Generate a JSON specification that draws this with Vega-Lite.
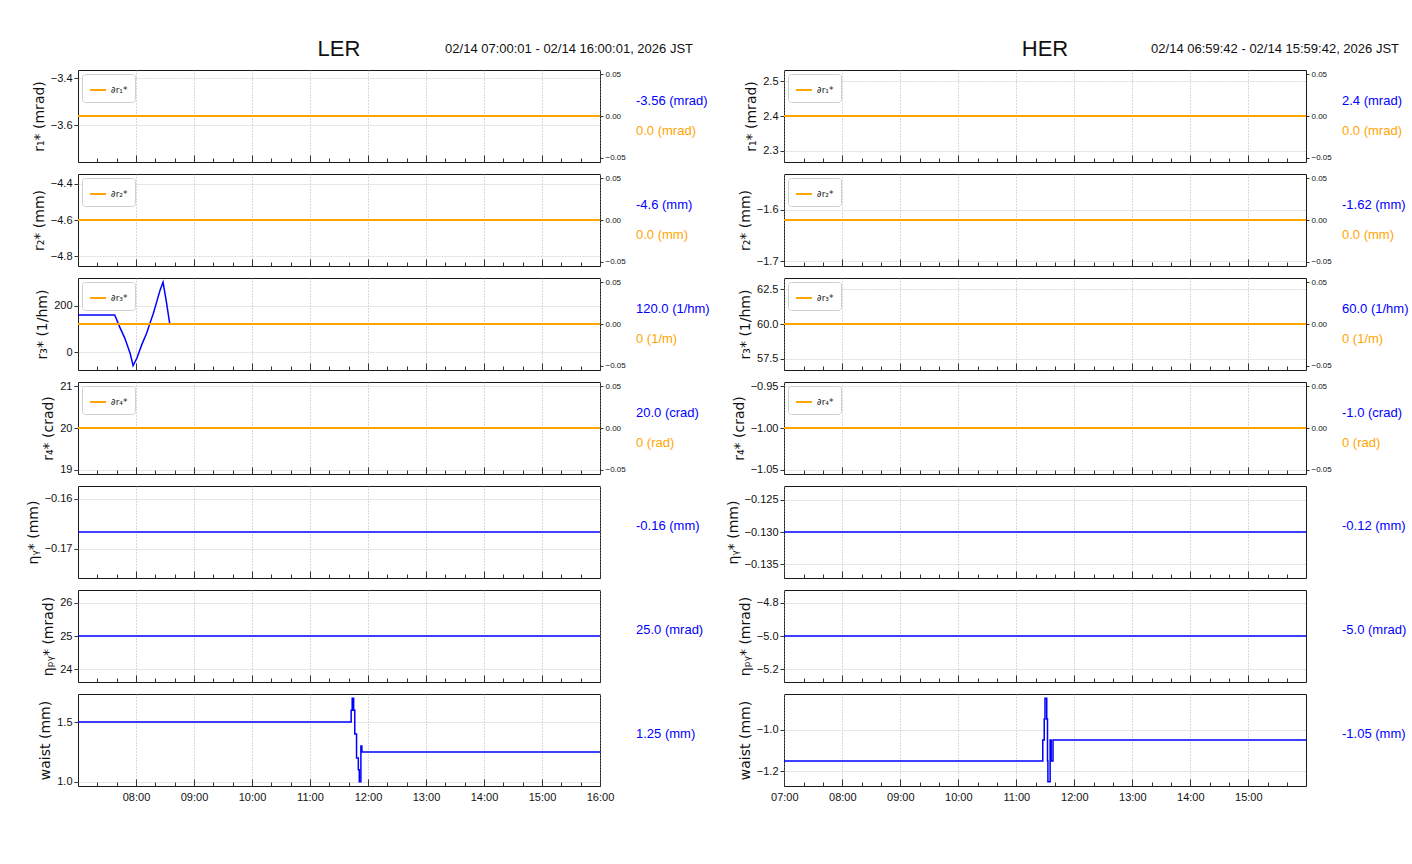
{
"$schema": "https://vega.github.io/schema/vega-lite/v6.json",
"padding": {"left": 25, "top": 37, "right": 0, "bottom": 0},
"config": {
  "font": "Liberation Sans",
  "view": {"stroke": "#1a1a1a", "strokeWidth": 1},
  "axis": {"domain": false, "labelFont": "Liberation Sans", "labelFontSize": 11, "labelColor": "#111", "tickColor": "#333", "titleFont": "DejaVu Sans", "titleFontSize": 14, "titleFontWeight": "normal", "titleColor": "#111"},
  "axisX": {"gridColor": "#a0a0a0", "gridDash": [1, 2], "gridWidth": 0.8, "labelFlush": false},
  "axisY": {"grid": true, "gridColor": "#d0d0d0", "gridDash": [2, 1], "gridWidth": 0.8, "tickSize": 4, "labelPadding": 2, "titlePadding": 4},
  "legend": {"orient": "top-left", "offset": 4, "fillColor": "white", "strokeColor": "#d0d0d0", "cornerRadius": 3, "padding": 7, "symbolType": "stroke", "symbolStrokeWidth": 2, "symbolSize": 256, "labelFont": "DejaVu Sans", "labelFontSize": 9, "labelColor": "#222", "labelOffset": 4}
},
"datasets": {
  "oL": [{"t": "2026-02-14T07:00:01Z", "v": 0}, {"t": "2026-02-14T16:00:01Z", "v": 0}],
  "oH": [{"t": "2026-02-14T06:59:42Z", "v": 0}, {"t": "2026-02-14T15:59:42Z", "v": 0}],
  "ler_r3": [{"t":"2026-02-14T07:00:01Z","v":160},{"t":"2026-02-14T07:38:00Z","v":160},{"t":"2026-02-14T07:43:00Z","v":110},{"t":"2026-02-14T07:48:30Z","v":60},{"t":"2026-02-14T07:54:00Z","v":-5},{"t":"2026-02-14T07:57:00Z","v":-57},{"t":"2026-02-14T08:01:00Z","v":-24},{"t":"2026-02-14T08:06:00Z","v":33},{"t":"2026-02-14T08:11:00Z","v":82},{"t":"2026-02-14T08:14:30Z","v":125},{"t":"2026-02-14T08:18:00Z","v":167},{"t":"2026-02-14T08:21:30Z","v":217},{"t":"2026-02-14T08:25:00Z","v":267},{"t":"2026-02-14T08:28:00Z","v":300},{"t":"2026-02-14T08:31:30Z","v":215},{"t":"2026-02-14T08:35:00Z","v":120},{"t":"2026-02-14T16:00:01Z","v":120}],
  "ler_waist": [{"t":"2026-02-14T07:00:01Z","v":1.5},{"t":"2026-02-14T11:42:36Z","v":1.6},{"t":"2026-02-14T11:43:40Z","v":1.7},{"t":"2026-02-14T11:45:10Z","v":1.6},{"t":"2026-02-14T11:46:20Z","v":1.4},{"t":"2026-02-14T11:48:10Z","v":1.2},{"t":"2026-02-14T11:50:00Z","v":1.1},{"t":"2026-02-14T11:51:00Z","v":1.0},{"t":"2026-02-14T11:52:40Z","v":1.3},{"t":"2026-02-14T11:53:40Z","v":1.25},{"t":"2026-02-14T16:00:01Z","v":1.25}],
  "her_waist": [{"t":"2026-02-14T06:59:42Z","v":-1.15},{"t":"2026-02-14T11:27:24Z","v":-1.05},{"t":"2026-02-14T11:28:54Z","v":-0.95},{"t":"2026-02-14T11:29:42Z","v":-0.85},{"t":"2026-02-14T11:31:30Z","v":-0.95},{"t":"2026-02-14T11:32:18Z","v":-1.15},{"t":"2026-02-14T11:32:42Z","v":-1.25},{"t":"2026-02-14T11:35:00Z","v":-1.05},{"t":"2026-02-14T11:36:06Z","v":-1.15},{"t":"2026-02-14T11:38:00Z","v":-1.05},{"t":"2026-02-14T15:59:42Z","v":-1.05}]
},
"columns": 4,
"spacing": {"row": 12, "column": 36},
"bounds": "flush",
"align": "each",
"resolve": {"scale": {"color": "independent"}, "legend": {"color": "independent"}},
"concat": [
  {"width": 522, "height": 19, "view": {"stroke": null}, "data": {"values": [{"label": "LER"}]}, "mark": {"type": "text", "align": "center", "baseline": "middle", "font": "Liberation Sans", "fontSize": 22, "color": "#111"}, "encoding": {"text": {"field": "label"}}},
  {"width": 57, "height": 19, "view": {"stroke": null}, "data": {"values": [{"label": "02/14 07:00:01 - 02/14 16:00:01, 2026 JST"}]}, "mark": {"type": "text", "align": "right", "baseline": "middle", "font": "Liberation Sans", "fontSize": 13, "color": "#111"}, "encoding": {"x": {"datum": 1, "type": "quantitative", "scale": {"domain": [0, 1]}, "axis": null}, "text": {"field": "label"}}},
  {"width": 522, "height": 19, "view": {"stroke": null}, "data": {"values": [{"label": "HER"}]}, "mark": {"type": "text", "align": "center", "baseline": "middle", "font": "Liberation Sans", "fontSize": 22, "color": "#111"}, "encoding": {"text": {"field": "label"}}},
  {"width": 57, "height": 19, "view": {"stroke": null}, "data": {"values": [{"label": "02/14 06:59:42 - 02/14 15:59:42, 2026 JST"}]}, "mark": {"type": "text", "align": "right", "baseline": "middle", "font": "Liberation Sans", "fontSize": 13, "color": "#111"}, "encoding": {"x": {"datum": 1, "type": "quantitative", "scale": {"domain": [0, 1]}, "axis": null}, "text": {"field": "label"}}},

  {"width": 522, "height": 92, "layer": [
    {"data": {"values": [{"t": "2026-02-14T07:00:01Z", "v": -3.56}, {"t": "2026-02-14T16:00:01Z", "v": -3.56}]}, "mark": {"type": "line", "color": "#0000ff", "strokeWidth": 1.5},
     "encoding": {"x": {"field": "t", "type": "temporal", "scale": {"type": "utc", "domain": [1771052401000, 1771084801000]}, "axis": {"orient": "bottom", "title": null, "values": [1771056000000,1771059600000,1771063200000,1771066800000,1771070400000,1771074000000,1771077600000,1771081200000,1771084800000], "offset": -7, "tickSize": 7, "grid": true, "labels": false}},
                  "y": {"field": "v", "type": "quantitative", "scale": {"domain": [-3.7558, -3.3642], "zero": false, "nice": false}, "axis": {"title": "r₁* (mrad)", "values": [-3.6, -3.4], "format": ".1f"}}}},
    {"data": {"name": "oL"}, "mark": {"type": "line", "strokeWidth": 2},
     "encoding": {"x": {"field": "t", "type": "temporal", "scale": {"type": "utc", "domain": [1771052401000, 1771084801000]}, "axis": null},
                  "y": {"field": "v", "type": "quantitative", "scale": {"domain": [-0.055, 0.055], "zero": false, "nice": false}, "axis": {"orient": "right", "title": null, "values": [-0.05, 0, 0.05], "format": ".2f", "grid": false, "tickSize": 3, "labelFontSize": 8, "labelPadding": 2}},
                  "color": {"datum": "∂r₁*", "type": "nominal", "scale": {"range": ["#ffa500"]}, "legend": {"title": null}}}},
    {"data": {"name": "oL"}, "mark": {"type": "rule", "opacity": 0},
     "encoding": {"x": {"field": "t", "type": "temporal", "scale": {"type": "utc", "domain": [1771052401000, 1771084801000]}, "axis": {"orient": "bottom", "title": null, "values": [1771053600000,1771054800000,1771057200000,1771058400000,1771060800000,1771062000000,1771064400000,1771065600000,1771068000000,1771069200000,1771071600000,1771072800000,1771075200000,1771076400000,1771078800000,1771080000000,1771082400000,1771083600000], "offset": -4, "tickSize": 4, "grid": false, "labels": false}}}}
  ], "resolve": {"scale": {"y": "independent"}, "axis": {"x": "independent"}}},
  {"width": 112, "height": 92, "view": {"stroke": null}, "data": {"values": [{"label": "-3.56 (mrad)", "kind": "value"}, {"label": "0.0 (mrad)", "kind": "delta"}]}, "mark": {"type": "text", "align": "left", "baseline": "middle", "font": "Liberation Sans", "fontSize": 13},
   "encoding": {"x": {"datum": 0, "type": "quantitative", "scale": {"domain": [0, 1]}, "axis": null}, "y": {"field": "kind", "type": "nominal", "scale": {"type": "point", "domain": ["value", "delta"], "padding": 1.143, "align": 0.5}, "axis": null}, "text": {"field": "label"}, "color": {"field": "kind", "type": "nominal", "scale": {"domain": ["value", "delta"], "range": ["#0000ff", "#ffa500"]}, "legend": null}}},
  {"width": 522, "height": 92, "layer": [
    {"data": {"values": [{"t": "2026-02-14T06:59:42Z", "v": 2.4}, {"t": "2026-02-14T15:59:42Z", "v": 2.4}]}, "mark": {"type": "line", "color": "#0000ff", "strokeWidth": 1.5},
     "encoding": {"x": {"field": "t", "type": "temporal", "scale": {"type": "utc", "domain": [1771052382000, 1771084782000]}, "axis": {"orient": "bottom", "title": null, "values": [1771052400000,1771056000000,1771059600000,1771063200000,1771066800000,1771070400000,1771074000000,1771077600000,1771081200000], "offset": -7, "tickSize": 7, "grid": true, "labels": false}},
                  "y": {"field": "v", "type": "quantitative", "scale": {"domain": [2.268, 2.532], "zero": false, "nice": false}, "axis": {"title": "r₁* (mrad)", "values": [2.3, 2.4, 2.5], "format": ".1f"}}}},
    {"data": {"name": "oH"}, "mark": {"type": "line", "strokeWidth": 2},
     "encoding": {"x": {"field": "t", "type": "temporal", "scale": {"type": "utc", "domain": [1771052382000, 1771084782000]}, "axis": null},
                  "y": {"field": "v", "type": "quantitative", "scale": {"domain": [-0.055, 0.055], "zero": false, "nice": false}, "axis": {"orient": "right", "title": null, "values": [-0.05, 0, 0.05], "format": ".2f", "grid": false, "tickSize": 3, "labelFontSize": 8, "labelPadding": 2}},
                  "color": {"datum": "∂r₁*", "type": "nominal", "scale": {"range": ["#ffa500"]}, "legend": {"title": null}}}},
    {"data": {"name": "oH"}, "mark": {"type": "rule", "opacity": 0},
     "encoding": {"x": {"field": "t", "type": "temporal", "scale": {"type": "utc", "domain": [1771052382000, 1771084782000]}, "axis": {"orient": "bottom", "title": null, "values": [1771053600000,1771054800000,1771057200000,1771058400000,1771060800000,1771062000000,1771064400000,1771065600000,1771068000000,1771069200000,1771071600000,1771072800000,1771075200000,1771076400000,1771078800000,1771080000000,1771082400000,1771083600000], "offset": -4, "tickSize": 4, "grid": false, "labels": false}}}}
  ], "resolve": {"scale": {"y": "independent"}, "axis": {"x": "independent"}}},
  {"width": 60, "height": 92, "view": {"stroke": null}, "data": {"values": [{"label": "2.4 (mrad)", "kind": "value"}, {"label": "0.0 (mrad)", "kind": "delta"}]}, "mark": {"type": "text", "align": "left", "baseline": "middle", "font": "Liberation Sans", "fontSize": 13},
   "encoding": {"x": {"datum": 0, "type": "quantitative", "scale": {"domain": [0, 1]}, "axis": null}, "y": {"field": "kind", "type": "nominal", "scale": {"type": "point", "domain": ["value", "delta"], "padding": 1.143, "align": 0.5}, "axis": null}, "text": {"field": "label"}, "color": {"field": "kind", "type": "nominal", "scale": {"domain": ["value", "delta"], "range": ["#0000ff", "#ffa500"]}, "legend": null}}},

  {"width": 522, "height": 92, "layer": [
    {"data": {"values": [{"t": "2026-02-14T07:00:01Z", "v": -4.6}, {"t": "2026-02-14T16:00:01Z", "v": -4.6}]}, "mark": {"type": "line", "color": "#0000ff", "strokeWidth": 1.5},
     "encoding": {"x": {"field": "t", "type": "temporal", "scale": {"type": "utc", "domain": [1771052401000, 1771084801000]}, "axis": {"orient": "bottom", "title": null, "values": [1771056000000,1771059600000,1771063200000,1771066800000,1771070400000,1771074000000,1771077600000,1771081200000,1771084800000], "offset": -7, "tickSize": 7, "grid": true, "labels": false}},
                  "y": {"field": "v", "type": "quantitative", "scale": {"domain": [-4.853, -4.347], "zero": false, "nice": false}, "axis": {"title": "r₂* (mm)", "values": [-4.8, -4.6, -4.4], "format": ".1f"}}}},
    {"data": {"name": "oL"}, "mark": {"type": "line", "strokeWidth": 2},
     "encoding": {"x": {"field": "t", "type": "temporal", "scale": {"type": "utc", "domain": [1771052401000, 1771084801000]}, "axis": null},
                  "y": {"field": "v", "type": "quantitative", "scale": {"domain": [-0.055, 0.055], "zero": false, "nice": false}, "axis": {"orient": "right", "title": null, "values": [-0.05, 0, 0.05], "format": ".2f", "grid": false, "tickSize": 3, "labelFontSize": 8, "labelPadding": 2}},
                  "color": {"datum": "∂r₂*", "type": "nominal", "scale": {"range": ["#ffa500"]}, "legend": {"title": null}}}},
    {"data": {"name": "oL"}, "mark": {"type": "rule", "opacity": 0},
     "encoding": {"x": {"field": "t", "type": "temporal", "scale": {"type": "utc", "domain": [1771052401000, 1771084801000]}, "axis": {"orient": "bottom", "title": null, "values": [1771053600000,1771054800000,1771057200000,1771058400000,1771060800000,1771062000000,1771064400000,1771065600000,1771068000000,1771069200000,1771071600000,1771072800000,1771075200000,1771076400000,1771078800000,1771080000000,1771082400000,1771083600000], "offset": -4, "tickSize": 4, "grid": false, "labels": false}}}}
  ], "resolve": {"scale": {"y": "independent"}, "axis": {"x": "independent"}}},
  {"width": 112, "height": 92, "view": {"stroke": null}, "data": {"values": [{"label": "-4.6 (mm)", "kind": "value"}, {"label": "0.0 (mm)", "kind": "delta"}]}, "mark": {"type": "text", "align": "left", "baseline": "middle", "font": "Liberation Sans", "fontSize": 13},
   "encoding": {"x": {"datum": 0, "type": "quantitative", "scale": {"domain": [0, 1]}, "axis": null}, "y": {"field": "kind", "type": "nominal", "scale": {"type": "point", "domain": ["value", "delta"], "padding": 1.143, "align": 0.5}, "axis": null}, "text": {"field": "label"}, "color": {"field": "kind", "type": "nominal", "scale": {"domain": ["value", "delta"], "range": ["#0000ff", "#ffa500"]}, "legend": null}}},
  {"width": 522, "height": 92, "layer": [
    {"data": {"values": [{"t": "2026-02-14T06:59:42Z", "v": -1.62}, {"t": "2026-02-14T15:59:42Z", "v": -1.62}]}, "mark": {"type": "line", "color": "#0000ff", "strokeWidth": 1.5},
     "encoding": {"x": {"field": "t", "type": "temporal", "scale": {"type": "utc", "domain": [1771052382000, 1771084782000]}, "axis": {"orient": "bottom", "title": null, "values": [1771052400000,1771056000000,1771059600000,1771063200000,1771066800000,1771070400000,1771074000000,1771077600000,1771081200000], "offset": -7, "tickSize": 7, "grid": true, "labels": false}},
                  "y": {"field": "v", "type": "quantitative", "scale": {"domain": [-1.7091, -1.5309], "zero": false, "nice": false}, "axis": {"title": "r₂* (mm)", "values": [-1.7, -1.6], "format": ".1f"}}}},
    {"data": {"name": "oH"}, "mark": {"type": "line", "strokeWidth": 2},
     "encoding": {"x": {"field": "t", "type": "temporal", "scale": {"type": "utc", "domain": [1771052382000, 1771084782000]}, "axis": null},
                  "y": {"field": "v", "type": "quantitative", "scale": {"domain": [-0.055, 0.055], "zero": false, "nice": false}, "axis": {"orient": "right", "title": null, "values": [-0.05, 0, 0.05], "format": ".2f", "grid": false, "tickSize": 3, "labelFontSize": 8, "labelPadding": 2}},
                  "color": {"datum": "∂r₂*", "type": "nominal", "scale": {"range": ["#ffa500"]}, "legend": {"title": null}}}},
    {"data": {"name": "oH"}, "mark": {"type": "rule", "opacity": 0},
     "encoding": {"x": {"field": "t", "type": "temporal", "scale": {"type": "utc", "domain": [1771052382000, 1771084782000]}, "axis": {"orient": "bottom", "title": null, "values": [1771053600000,1771054800000,1771057200000,1771058400000,1771060800000,1771062000000,1771064400000,1771065600000,1771068000000,1771069200000,1771071600000,1771072800000,1771075200000,1771076400000,1771078800000,1771080000000,1771082400000,1771083600000], "offset": -4, "tickSize": 4, "grid": false, "labels": false}}}}
  ], "resolve": {"scale": {"y": "independent"}, "axis": {"x": "independent"}}},
  {"width": 60, "height": 92, "view": {"stroke": null}, "data": {"values": [{"label": "-1.62 (mm)", "kind": "value"}, {"label": "0.0 (mm)", "kind": "delta"}]}, "mark": {"type": "text", "align": "left", "baseline": "middle", "font": "Liberation Sans", "fontSize": 13},
   "encoding": {"x": {"datum": 0, "type": "quantitative", "scale": {"domain": [0, 1]}, "axis": null}, "y": {"field": "kind", "type": "nominal", "scale": {"type": "point", "domain": ["value", "delta"], "padding": 1.143, "align": 0.5}, "axis": null}, "text": {"field": "label"}, "color": {"field": "kind", "type": "nominal", "scale": {"domain": ["value", "delta"], "range": ["#0000ff", "#ffa500"]}, "legend": null}}},

  {"width": 522, "height": 92, "layer": [
    {"data": {"name": "ler_r3"}, "mark": {"type": "line", "color": "#0000ff", "strokeWidth": 1.5},
     "encoding": {"x": {"field": "t", "type": "temporal", "scale": {"type": "utc", "domain": [1771052401000, 1771084801000]}, "axis": {"orient": "bottom", "title": null, "values": [1771056000000,1771059600000,1771063200000,1771066800000,1771070400000,1771074000000,1771077600000,1771081200000,1771084800000], "offset": -7, "tickSize": 7, "grid": true, "labels": false}},
                  "y": {"field": "v", "type": "quantitative", "scale": {"domain": [-75.4, 317.9], "zero": false, "nice": false}, "axis": {"title": "r₃* (1/hm)", "values": [0, 200], "format": "d"}}}},
    {"data": {"name": "oL"}, "mark": {"type": "line", "strokeWidth": 2},
     "encoding": {"x": {"field": "t", "type": "temporal", "scale": {"type": "utc", "domain": [1771052401000, 1771084801000]}, "axis": null},
                  "y": {"field": "v", "type": "quantitative", "scale": {"domain": [-0.055, 0.055], "zero": false, "nice": false}, "axis": {"orient": "right", "title": null, "values": [-0.05, 0, 0.05], "format": ".2f", "grid": false, "tickSize": 3, "labelFontSize": 8, "labelPadding": 2}},
                  "color": {"datum": "∂r₃*", "type": "nominal", "scale": {"range": ["#ffa500"]}, "legend": {"title": null}}}},
    {"data": {"name": "oL"}, "mark": {"type": "rule", "opacity": 0},
     "encoding": {"x": {"field": "t", "type": "temporal", "scale": {"type": "utc", "domain": [1771052401000, 1771084801000]}, "axis": {"orient": "bottom", "title": null, "values": [1771053600000,1771054800000,1771057200000,1771058400000,1771060800000,1771062000000,1771064400000,1771065600000,1771068000000,1771069200000,1771071600000,1771072800000,1771075200000,1771076400000,1771078800000,1771080000000,1771082400000,1771083600000], "offset": -4, "tickSize": 4, "grid": false, "labels": false}}}}
  ], "resolve": {"scale": {"y": "independent"}, "axis": {"x": "independent"}}},
  {"width": 112, "height": 92, "view": {"stroke": null}, "data": {"values": [{"label": "120.0 (1/hm)", "kind": "value"}, {"label": "0 (1/m)", "kind": "delta"}]}, "mark": {"type": "text", "align": "left", "baseline": "middle", "font": "Liberation Sans", "fontSize": 13},
   "encoding": {"x": {"datum": 0, "type": "quantitative", "scale": {"domain": [0, 1]}, "axis": null}, "y": {"field": "kind", "type": "nominal", "scale": {"type": "point", "domain": ["value", "delta"], "padding": 1.143, "align": 0.5}, "axis": null}, "text": {"field": "label"}, "color": {"field": "kind", "type": "nominal", "scale": {"domain": ["value", "delta"], "range": ["#0000ff", "#ffa500"]}, "legend": null}}},
  {"width": 522, "height": 92, "layer": [
    {"data": {"values": [{"t": "2026-02-14T06:59:42Z", "v": 60}, {"t": "2026-02-14T15:59:42Z", "v": 60}]}, "mark": {"type": "line", "color": "#0000ff", "strokeWidth": 1.5},
     "encoding": {"x": {"field": "t", "type": "temporal", "scale": {"type": "utc", "domain": [1771052382000, 1771084782000]}, "axis": {"orient": "bottom", "title": null, "values": [1771052400000,1771056000000,1771059600000,1771063200000,1771066800000,1771070400000,1771074000000,1771077600000,1771081200000], "offset": -7, "tickSize": 7, "grid": true, "labels": false}},
                  "y": {"field": "v", "type": "quantitative", "scale": {"domain": [56.7, 63.3], "zero": false, "nice": false}, "axis": {"title": "r₃* (1/hm)", "values": [57.5, 60, 62.5], "format": ".1f"}}}},
    {"data": {"name": "oH"}, "mark": {"type": "line", "strokeWidth": 2},
     "encoding": {"x": {"field": "t", "type": "temporal", "scale": {"type": "utc", "domain": [1771052382000, 1771084782000]}, "axis": null},
                  "y": {"field": "v", "type": "quantitative", "scale": {"domain": [-0.055, 0.055], "zero": false, "nice": false}, "axis": {"orient": "right", "title": null, "values": [-0.05, 0, 0.05], "format": ".2f", "grid": false, "tickSize": 3, "labelFontSize": 8, "labelPadding": 2}},
                  "color": {"datum": "∂r₃*", "type": "nominal", "scale": {"range": ["#ffa500"]}, "legend": {"title": null}}}},
    {"data": {"name": "oH"}, "mark": {"type": "rule", "opacity": 0},
     "encoding": {"x": {"field": "t", "type": "temporal", "scale": {"type": "utc", "domain": [1771052382000, 1771084782000]}, "axis": {"orient": "bottom", "title": null, "values": [1771053600000,1771054800000,1771057200000,1771058400000,1771060800000,1771062000000,1771064400000,1771065600000,1771068000000,1771069200000,1771071600000,1771072800000,1771075200000,1771076400000,1771078800000,1771080000000,1771082400000,1771083600000], "offset": -4, "tickSize": 4, "grid": false, "labels": false}}}}
  ], "resolve": {"scale": {"y": "independent"}, "axis": {"x": "independent"}}},
  {"width": 60, "height": 92, "view": {"stroke": null}, "data": {"values": [{"label": "60.0 (1/hm)", "kind": "value"}, {"label": "0 (1/m)", "kind": "delta"}]}, "mark": {"type": "text", "align": "left", "baseline": "middle", "font": "Liberation Sans", "fontSize": 13},
   "encoding": {"x": {"datum": 0, "type": "quantitative", "scale": {"domain": [0, 1]}, "axis": null}, "y": {"field": "kind", "type": "nominal", "scale": {"type": "point", "domain": ["value", "delta"], "padding": 1.143, "align": 0.5}, "axis": null}, "text": {"field": "label"}, "color": {"field": "kind", "type": "nominal", "scale": {"domain": ["value", "delta"], "range": ["#0000ff", "#ffa500"]}, "legend": null}}},

  {"width": 522, "height": 92, "layer": [
    {"data": {"values": [{"t": "2026-02-14T07:00:01Z", "v": 20}, {"t": "2026-02-14T16:00:01Z", "v": 20}]}, "mark": {"type": "line", "color": "#0000ff", "strokeWidth": 1.5},
     "encoding": {"x": {"field": "t", "type": "temporal", "scale": {"type": "utc", "domain": [1771052401000, 1771084801000]}, "axis": {"orient": "bottom", "title": null, "values": [1771056000000,1771059600000,1771063200000,1771066800000,1771070400000,1771074000000,1771077600000,1771081200000,1771084800000], "offset": -7, "tickSize": 7, "grid": true, "labels": false}},
                  "y": {"field": "v", "type": "quantitative", "scale": {"domain": [18.9, 21.1], "zero": false, "nice": false}, "axis": {"title": "r₄* (crad)", "values": [19, 20, 21], "format": "d"}}}},
    {"data": {"name": "oL"}, "mark": {"type": "line", "strokeWidth": 2},
     "encoding": {"x": {"field": "t", "type": "temporal", "scale": {"type": "utc", "domain": [1771052401000, 1771084801000]}, "axis": null},
                  "y": {"field": "v", "type": "quantitative", "scale": {"domain": [-0.055, 0.055], "zero": false, "nice": false}, "axis": {"orient": "right", "title": null, "values": [-0.05, 0, 0.05], "format": ".2f", "grid": false, "tickSize": 3, "labelFontSize": 8, "labelPadding": 2}},
                  "color": {"datum": "∂r₄*", "type": "nominal", "scale": {"range": ["#ffa500"]}, "legend": {"title": null}}}},
    {"data": {"name": "oL"}, "mark": {"type": "rule", "opacity": 0},
     "encoding": {"x": {"field": "t", "type": "temporal", "scale": {"type": "utc", "domain": [1771052401000, 1771084801000]}, "axis": {"orient": "bottom", "title": null, "values": [1771053600000,1771054800000,1771057200000,1771058400000,1771060800000,1771062000000,1771064400000,1771065600000,1771068000000,1771069200000,1771071600000,1771072800000,1771075200000,1771076400000,1771078800000,1771080000000,1771082400000,1771083600000], "offset": -4, "tickSize": 4, "grid": false, "labels": false}}}}
  ], "resolve": {"scale": {"y": "independent"}, "axis": {"x": "independent"}}},
  {"width": 112, "height": 92, "view": {"stroke": null}, "data": {"values": [{"label": "20.0 (crad)", "kind": "value"}, {"label": "0 (rad)", "kind": "delta"}]}, "mark": {"type": "text", "align": "left", "baseline": "middle", "font": "Liberation Sans", "fontSize": 13},
   "encoding": {"x": {"datum": 0, "type": "quantitative", "scale": {"domain": [0, 1]}, "axis": null}, "y": {"field": "kind", "type": "nominal", "scale": {"type": "point", "domain": ["value", "delta"], "padding": 1.143, "align": 0.5}, "axis": null}, "text": {"field": "label"}, "color": {"field": "kind", "type": "nominal", "scale": {"domain": ["value", "delta"], "range": ["#0000ff", "#ffa500"]}, "legend": null}}},
  {"width": 522, "height": 92, "layer": [
    {"data": {"values": [{"t": "2026-02-14T06:59:42Z", "v": -1.0}, {"t": "2026-02-14T15:59:42Z", "v": -1.0}]}, "mark": {"type": "line", "color": "#0000ff", "strokeWidth": 1.5},
     "encoding": {"x": {"field": "t", "type": "temporal", "scale": {"type": "utc", "domain": [1771052382000, 1771084782000]}, "axis": {"orient": "bottom", "title": null, "values": [1771052400000,1771056000000,1771059600000,1771063200000,1771066800000,1771070400000,1771074000000,1771077600000,1771081200000], "offset": -7, "tickSize": 7, "grid": true, "labels": false}},
                  "y": {"field": "v", "type": "quantitative", "scale": {"domain": [-1.055, -0.945], "zero": false, "nice": false}, "axis": {"title": "r₄* (crad)", "values": [-1.05, -1.0, -0.95], "format": ".2f"}}}},
    {"data": {"name": "oH"}, "mark": {"type": "line", "strokeWidth": 2},
     "encoding": {"x": {"field": "t", "type": "temporal", "scale": {"type": "utc", "domain": [1771052382000, 1771084782000]}, "axis": null},
                  "y": {"field": "v", "type": "quantitative", "scale": {"domain": [-0.055, 0.055], "zero": false, "nice": false}, "axis": {"orient": "right", "title": null, "values": [-0.05, 0, 0.05], "format": ".2f", "grid": false, "tickSize": 3, "labelFontSize": 8, "labelPadding": 2}},
                  "color": {"datum": "∂r₄*", "type": "nominal", "scale": {"range": ["#ffa500"]}, "legend": {"title": null}}}},
    {"data": {"name": "oH"}, "mark": {"type": "rule", "opacity": 0},
     "encoding": {"x": {"field": "t", "type": "temporal", "scale": {"type": "utc", "domain": [1771052382000, 1771084782000]}, "axis": {"orient": "bottom", "title": null, "values": [1771053600000,1771054800000,1771057200000,1771058400000,1771060800000,1771062000000,1771064400000,1771065600000,1771068000000,1771069200000,1771071600000,1771072800000,1771075200000,1771076400000,1771078800000,1771080000000,1771082400000,1771083600000], "offset": -4, "tickSize": 4, "grid": false, "labels": false}}}}
  ], "resolve": {"scale": {"y": "independent"}, "axis": {"x": "independent"}}},
  {"width": 60, "height": 92, "view": {"stroke": null}, "data": {"values": [{"label": "-1.0 (crad)", "kind": "value"}, {"label": "0 (rad)", "kind": "delta"}]}, "mark": {"type": "text", "align": "left", "baseline": "middle", "font": "Liberation Sans", "fontSize": 13},
   "encoding": {"x": {"datum": 0, "type": "quantitative", "scale": {"domain": [0, 1]}, "axis": null}, "y": {"field": "kind", "type": "nominal", "scale": {"type": "point", "domain": ["value", "delta"], "padding": 1.143, "align": 0.5}, "axis": null}, "text": {"field": "label"}, "color": {"field": "kind", "type": "nominal", "scale": {"domain": ["value", "delta"], "range": ["#0000ff", "#ffa500"]}, "legend": null}}},

  {"width": 522, "height": 92, "layer": [
    {"data": {"values": [{"t": "2026-02-14T07:00:01Z", "v": -0.16667}, {"t": "2026-02-14T16:00:01Z", "v": -0.16667}]}, "mark": {"type": "line", "color": "#0000ff", "strokeWidth": 1.5},
     "encoding": {"x": {"field": "t", "type": "temporal", "scale": {"type": "utc", "domain": [1771052401000, 1771084801000]}, "axis": {"orient": "bottom", "title": null, "values": [1771056000000,1771059600000,1771063200000,1771066800000,1771070400000,1771074000000,1771077600000,1771081200000,1771084800000], "offset": -7, "tickSize": 7, "grid": true, "labels": false}},
                  "y": {"field": "v", "type": "quantitative", "scale": {"domain": [-0.17583, -0.1575], "zero": false, "nice": false}, "axis": {"title": "ηᵧ* (mm)", "values": [-0.17, -0.16], "format": ".2f"}}}},
    {"data": {"name": "oL"}, "mark": {"type": "rule", "opacity": 0},
     "encoding": {"x": {"field": "t", "type": "temporal", "scale": {"type": "utc", "domain": [1771052401000, 1771084801000]}, "axis": {"orient": "bottom", "title": null, "values": [1771053600000,1771054800000,1771057200000,1771058400000,1771060800000,1771062000000,1771064400000,1771065600000,1771068000000,1771069200000,1771071600000,1771072800000,1771075200000,1771076400000,1771078800000,1771080000000,1771082400000,1771083600000], "offset": -4, "tickSize": 4, "grid": false, "labels": false}}}}
  ], "resolve": {"axis": {"x": "independent"}}},
  {"width": 112, "height": 92, "view": {"stroke": null}, "data": {"values": [{"label": "-0.16 (mm)", "kind": "value"}]}, "mark": {"type": "text", "align": "left", "baseline": "middle", "font": "Liberation Sans", "fontSize": 13, "color": "#0000ff"},
   "encoding": {"x": {"datum": 0, "type": "quantitative", "scale": {"domain": [0, 1]}, "axis": null}, "y": {"field": "kind", "type": "nominal", "scale": {"type": "point", "domain": ["value"], "padding": 0.5, "align": 0.435}, "axis": null}, "text": {"field": "label"}}},
  {"width": 522, "height": 92, "layer": [
    {"data": {"values": [{"t": "2026-02-14T06:59:42Z", "v": -0.13}, {"t": "2026-02-14T15:59:42Z", "v": -0.13}]}, "mark": {"type": "line", "color": "#0000ff", "strokeWidth": 1.5},
     "encoding": {"x": {"field": "t", "type": "temporal", "scale": {"type": "utc", "domain": [1771052382000, 1771084782000]}, "axis": {"orient": "bottom", "title": null, "values": [1771052400000,1771056000000,1771059600000,1771063200000,1771066800000,1771070400000,1771074000000,1771077600000,1771081200000], "offset": -7, "tickSize": 7, "grid": true, "labels": false}},
                  "y": {"field": "v", "type": "quantitative", "scale": {"domain": [-0.13715, -0.12285], "zero": false, "nice": false}, "axis": {"title": "ηᵧ* (mm)", "values": [-0.135, -0.13, -0.125], "format": ".3f"}}}},
    {"data": {"name": "oH"}, "mark": {"type": "rule", "opacity": 0},
     "encoding": {"x": {"field": "t", "type": "temporal", "scale": {"type": "utc", "domain": [1771052382000, 1771084782000]}, "axis": {"orient": "bottom", "title": null, "values": [1771053600000,1771054800000,1771057200000,1771058400000,1771060800000,1771062000000,1771064400000,1771065600000,1771068000000,1771069200000,1771071600000,1771072800000,1771075200000,1771076400000,1771078800000,1771080000000,1771082400000,1771083600000], "offset": -4, "tickSize": 4, "grid": false, "labels": false}}}}
  ], "resolve": {"axis": {"x": "independent"}}},
  {"width": 60, "height": 92, "view": {"stroke": null}, "data": {"values": [{"label": "-0.12 (mm)", "kind": "value"}]}, "mark": {"type": "text", "align": "left", "baseline": "middle", "font": "Liberation Sans", "fontSize": 13, "color": "#0000ff"},
   "encoding": {"x": {"datum": 0, "type": "quantitative", "scale": {"domain": [0, 1]}, "axis": null}, "y": {"field": "kind", "type": "nominal", "scale": {"type": "point", "domain": ["value"], "padding": 0.5, "align": 0.435}, "axis": null}, "text": {"field": "label"}}},

  {"width": 522, "height": 92, "layer": [
    {"data": {"values": [{"t": "2026-02-14T07:00:01Z", "v": 25}, {"t": "2026-02-14T16:00:01Z", "v": 25}]}, "mark": {"type": "line", "color": "#0000ff", "strokeWidth": 1.5},
     "encoding": {"x": {"field": "t", "type": "temporal", "scale": {"type": "utc", "domain": [1771052401000, 1771084801000]}, "axis": {"orient": "bottom", "title": null, "values": [1771056000000,1771059600000,1771063200000,1771066800000,1771070400000,1771074000000,1771077600000,1771081200000,1771084800000], "offset": -7, "tickSize": 7, "grid": true, "labels": false}},
                  "y": {"field": "v", "type": "quantitative", "scale": {"domain": [23.625, 26.375], "zero": false, "nice": false}, "axis": {"title": "ηₚᵧ* (mrad)", "values": [24, 25, 26], "format": "d"}}}},
    {"data": {"name": "oL"}, "mark": {"type": "rule", "opacity": 0},
     "encoding": {"x": {"field": "t", "type": "temporal", "scale": {"type": "utc", "domain": [1771052401000, 1771084801000]}, "axis": {"orient": "bottom", "title": null, "values": [1771053600000,1771054800000,1771057200000,1771058400000,1771060800000,1771062000000,1771064400000,1771065600000,1771068000000,1771069200000,1771071600000,1771072800000,1771075200000,1771076400000,1771078800000,1771080000000,1771082400000,1771083600000], "offset": -4, "tickSize": 4, "grid": false, "labels": false}}}}
  ], "resolve": {"axis": {"x": "independent"}}},
  {"width": 112, "height": 92, "view": {"stroke": null}, "data": {"values": [{"label": "25.0 (mrad)", "kind": "value"}]}, "mark": {"type": "text", "align": "left", "baseline": "middle", "font": "Liberation Sans", "fontSize": 13, "color": "#0000ff"},
   "encoding": {"x": {"datum": 0, "type": "quantitative", "scale": {"domain": [0, 1]}, "axis": null}, "y": {"field": "kind", "type": "nominal", "scale": {"type": "point", "domain": ["value"], "padding": 0.5, "align": 0.435}, "axis": null}, "text": {"field": "label"}}},
  {"width": 522, "height": 92, "layer": [
    {"data": {"values": [{"t": "2026-02-14T06:59:42Z", "v": -5.0}, {"t": "2026-02-14T15:59:42Z", "v": -5.0}]}, "mark": {"type": "line", "color": "#0000ff", "strokeWidth": 1.5},
     "encoding": {"x": {"field": "t", "type": "temporal", "scale": {"type": "utc", "domain": [1771052382000, 1771084782000]}, "axis": {"orient": "bottom", "title": null, "values": [1771052400000,1771056000000,1771059600000,1771063200000,1771066800000,1771070400000,1771074000000,1771077600000,1771081200000], "offset": -7, "tickSize": 7, "grid": true, "labels": false}},
                  "y": {"field": "v", "type": "quantitative", "scale": {"domain": [-5.275, -4.725], "zero": false, "nice": false}, "axis": {"title": "ηₚᵧ* (mrad)", "values": [-5.2, -5.0, -4.8], "format": ".1f"}}}},
    {"data": {"name": "oH"}, "mark": {"type": "rule", "opacity": 0},
     "encoding": {"x": {"field": "t", "type": "temporal", "scale": {"type": "utc", "domain": [1771052382000, 1771084782000]}, "axis": {"orient": "bottom", "title": null, "values": [1771053600000,1771054800000,1771057200000,1771058400000,1771060800000,1771062000000,1771064400000,1771065600000,1771068000000,1771069200000,1771071600000,1771072800000,1771075200000,1771076400000,1771078800000,1771080000000,1771082400000,1771083600000], "offset": -4, "tickSize": 4, "grid": false, "labels": false}}}}
  ], "resolve": {"axis": {"x": "independent"}}},
  {"width": 60, "height": 92, "view": {"stroke": null}, "data": {"values": [{"label": "-5.0 (mrad)", "kind": "value"}]}, "mark": {"type": "text", "align": "left", "baseline": "middle", "font": "Liberation Sans", "fontSize": 13, "color": "#0000ff"},
   "encoding": {"x": {"datum": 0, "type": "quantitative", "scale": {"domain": [0, 1]}, "axis": null}, "y": {"field": "kind", "type": "nominal", "scale": {"type": "point", "domain": ["value"], "padding": 0.5, "align": 0.435}, "axis": null}, "text": {"field": "label"}}},

  {"width": 522, "height": 92, "layer": [
    {"data": {"name": "ler_waist"}, "mark": {"type": "line", "color": "#0000ff", "strokeWidth": 1.5, "interpolate": "step-after"},
     "encoding": {"x": {"field": "t", "type": "temporal", "scale": {"type": "utc", "domain": [1771052401000, 1771084801000]}, "axis": {"orient": "bottom", "title": null, "values": [1771056000000,1771059600000,1771063200000,1771066800000,1771070400000,1771074000000,1771077600000,1771081200000,1771084800000], "offset": -7, "tickSize": 7, "grid": true, "labels": true, "labelFlush": false, "labelExpr": "utcFormat(datum.value, '%H:%M')", "labelPadding": 5}},
                  "y": {"field": "v", "type": "quantitative", "scale": {"domain": [0.965, 1.735], "zero": false, "nice": false}, "axis": {"title": "waist (mm)", "values": [1.0, 1.5], "format": ".1f"}}}},
    {"data": {"name": "oL"}, "mark": {"type": "rule", "opacity": 0},
     "encoding": {"x": {"field": "t", "type": "temporal", "scale": {"type": "utc", "domain": [1771052401000, 1771084801000]}, "axis": {"orient": "bottom", "title": null, "values": [1771053600000,1771054800000,1771057200000,1771058400000,1771060800000,1771062000000,1771064400000,1771065600000,1771068000000,1771069200000,1771071600000,1771072800000,1771075200000,1771076400000,1771078800000,1771080000000,1771082400000,1771083600000], "offset": -4, "tickSize": 4, "grid": false, "labels": false}}}}
  ], "resolve": {"axis": {"x": "independent"}}},
  {"width": 112, "height": 92, "view": {"stroke": null}, "data": {"values": [{"label": "1.25 (mm)", "kind": "value"}]}, "mark": {"type": "text", "align": "left", "baseline": "middle", "font": "Liberation Sans", "fontSize": 13, "color": "#0000ff"},
   "encoding": {"x": {"datum": 0, "type": "quantitative", "scale": {"domain": [0, 1]}, "axis": null}, "y": {"field": "kind", "type": "nominal", "scale": {"type": "point", "domain": ["value"], "padding": 0.5, "align": 0.435}, "axis": null}, "text": {"field": "label"}}},
  {"width": 522, "height": 92, "layer": [
    {"data": {"name": "her_waist"}, "mark": {"type": "line", "color": "#0000ff", "strokeWidth": 1.5, "interpolate": "step-after"},
     "encoding": {"x": {"field": "t", "type": "temporal", "scale": {"type": "utc", "domain": [1771052382000, 1771084782000]}, "axis": {"orient": "bottom", "title": null, "values": [1771052400000,1771056000000,1771059600000,1771063200000,1771066800000,1771070400000,1771074000000,1771077600000,1771081200000], "offset": -7, "tickSize": 7, "grid": true, "labels": true, "labelFlush": false, "labelExpr": "utcFormat(datum.value, '%H:%M')", "labelPadding": 5}},
                  "y": {"field": "v", "type": "quantitative", "scale": {"domain": [-1.27, -0.83], "zero": false, "nice": false}, "axis": {"title": "waist (mm)", "values": [-1.2, -1.0], "format": ".1f"}}}},
    {"data": {"name": "oH"}, "mark": {"type": "rule", "opacity": 0},
     "encoding": {"x": {"field": "t", "type": "temporal", "scale": {"type": "utc", "domain": [1771052382000, 1771084782000]}, "axis": {"orient": "bottom", "title": null, "values": [1771053600000,1771054800000,1771057200000,1771058400000,1771060800000,1771062000000,1771064400000,1771065600000,1771068000000,1771069200000,1771071600000,1771072800000,1771075200000,1771076400000,1771078800000,1771080000000,1771082400000,1771083600000], "offset": -4, "tickSize": 4, "grid": false, "labels": false}}}}
  ], "resolve": {"axis": {"x": "independent"}}},
  {"width": 60, "height": 92, "view": {"stroke": null}, "data": {"values": [{"label": "-1.05 (mm)", "kind": "value"}]}, "mark": {"type": "text", "align": "left", "baseline": "middle", "font": "Liberation Sans", "fontSize": 13, "color": "#0000ff"},
   "encoding": {"x": {"datum": 0, "type": "quantitative", "scale": {"domain": [0, 1]}, "axis": null}, "y": {"field": "kind", "type": "nominal", "scale": {"type": "point", "domain": ["value"], "padding": 0.5, "align": 0.435}, "axis": null}, "text": {"field": "label"}}}
]
}
